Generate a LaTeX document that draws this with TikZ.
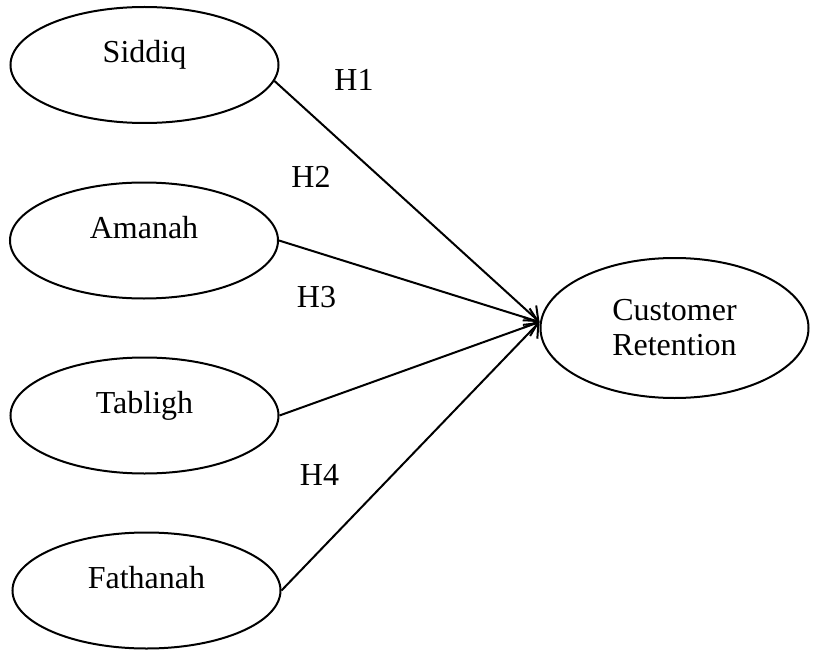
\documentclass[tikz,border=0pt]{standalone}
\usepackage{fontspec}
\setmainfont{Liberation Serif}
\usetikzlibrary{shapes.geometric,arrows.meta,positioning,calc}

\tikzset{
    construct/.style={ellipse, draw, line width=2pt, minimum width=268pt, minimum height=116pt,
        inner sep=0pt, text height=22pt, text depth=27pt},
    outcome/.style={ellipse, draw, line width=2pt, minimum width=268pt, minimum height=140pt,
        inner sep=0pt, align=center},
    hyp/.style={anchor=base},
    link/.style={line width=2pt, -{Straight Barb[length=12pt,width=20pt,line width=2pt]}}
}

\begin{document}
\begin{tikzpicture}[x=1pt, y=-1pt, font=\fontsize{32}{35}\selectfont]
    \useasboundingbox (0,0) rectangle (814,650);

    % Independent constructs
    \node[construct] (siddiq) at (144.5,65) {Siddiq};
    \node[construct] (amanah) at (144,240.5) {Amanah};
    \node[construct] (tabligh) at (144.5,415.5) {Tabligh};
    \node[construct] (fathanah) at (146.5,590.5) {Fathanah};

    % Dependent construct
    \node[outcome] (retention) at (674.5,328) {Customer\\Retention};
    \coordinate (tip) at ([yshift=6pt]retention.west);

    % Paths
    \draw[link] (siddiq.-7) -- (tip);
    \draw[link] (amanah.east) -- (tip);
    \draw[link] (tabligh.east) -- (tip);
    \draw[link] (fathanah.east) -- (tip);

    % Hypotheses
    \node[hyp] (h1) at (354,91) {H1};
    \node[hyp] (h2) at (311,187) {H2};
    \node[hyp] (h3) at (316.5,307) {H3};
    \node[hyp] (h4) at (319.5,485) {H4};
\end{tikzpicture}
\end{document}
